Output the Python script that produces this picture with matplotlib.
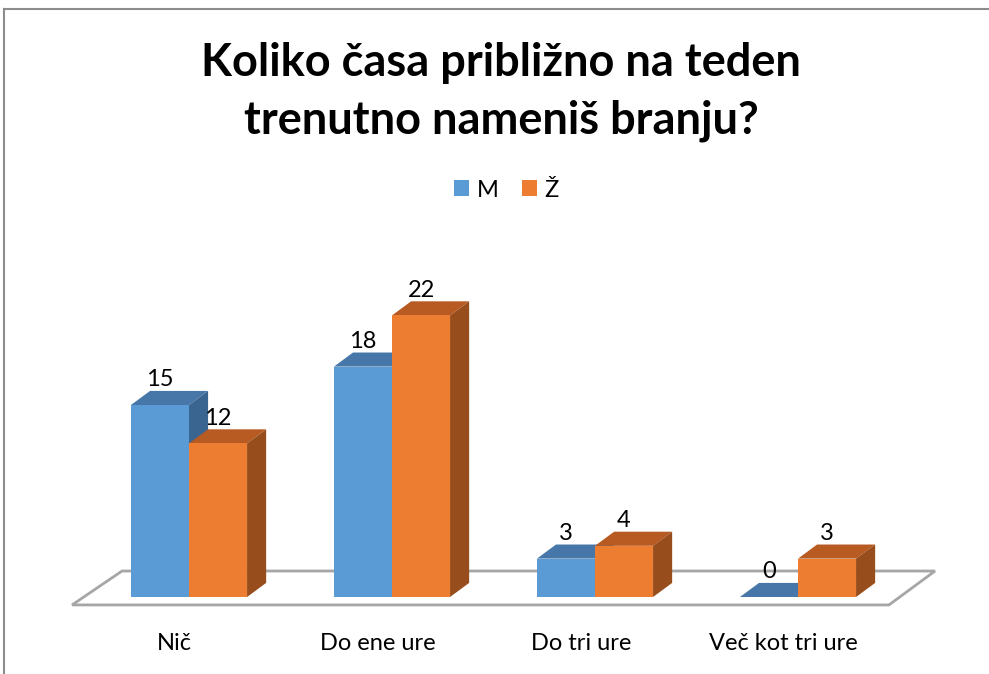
import matplotlib.pyplot as plt
from matplotlib.patches import Polygon, Patch
from matplotlib.lines import Line2D

categories = ["Nič", "Do ene ure", "Do tri ure", "Več kot tri ure"]
series_names = ["M", "Ž"]
m_values = [15, 18, 3, 0]
z_values = [12, 22, 4, 3]

front_cols = ["#5B9BD5", "#ED7D31"]
top_cols = ["#4677A8", "#B75B22"]
side_cols = ["#3B6591", "#974D1C"]

W, H = 989, 674
fig = plt.figure(figsize=(W / 100, H / 100), dpi=100)
ax = fig.add_axes([0, 0, 1, 1])
# 1 x-unit = one category step, 1 y-unit = one answer
ax.set_xlim(-189 / 203, (W - 189) / 203)
ax.set_ylim(-(H - 597) / 12.8, 597 / 12.8)
ax.axis("off")

bw = 0.286          # bar width
ddx, ddy = 0.094, 1.1   # bar depth offset

# floor
fy0, fy1 = -0.62, 2.03
floor = Polygon([(-0.576, fy0), (3.448, fy0), (3.675, fy1), (-0.33, fy1)],
                closed=True, facecolor="white", edgecolor="#A6A6A6", lw=2, zorder=1)
ax.add_patch(floor)


def bar3d(x0, v, k):
    x1 = x0 + bw
    top = Polygon([(x0, v), (x1, v), (x1 + ddx, v + ddy), (x0 + ddx, v + ddy)],
                  facecolor=top_cols[k], edgecolor="none", zorder=2)
    ax.add_patch(top)
    if v > 0:
        side = Polygon([(x1, 0), (x1 + ddx, ddy), (x1 + ddx, v + ddy), (x1, v)],
                       facecolor=side_cols[k], edgecolor="none", zorder=2)
        front = Polygon([(x0, 0), (x1, 0), (x1, v), (x0, v)],
                        facecolor=front_cols[k], edgecolor="none", zorder=2)
        ax.add_patch(side)
        ax.add_patch(front)
    ax.text(x0 + bw / 2, v + ddy + 0.05, str(v), ha="center", va="bottom",
            fontsize=17, family="Lato", zorder=3)


for i, cat in enumerate(categories):
    bar3d(i - bw, m_values[i], 0)
    bar3d(i, z_values[i], 1)
    ax.text(i - 0.07, -3.6, cat, ha="center", va="center", fontsize=17, family="Lato")

fig.text(0.507, 1 - 92 / H, "Koliko časa približno na teden\ntrenutno nameniš branju?",
         ha="center", va="center", fontsize=32.5, fontweight="bold", family="Lato",
         linespacing=1.45)

handles = [Patch(facecolor=c, edgecolor="none") for c in front_cols]
fig.legend(handles, series_names, ncol=2, loc="center", frameon=False,
           bbox_to_anchor=(0.512, 1 - 190 / H), prop={"family": "Lato", "size": 17},
           handlelength=0.65, handleheight=0.65, handletextpad=0.3, columnspacing=1.0)

# outer chart frame (top and left edges visible)
fig.add_artist(Line2D([4 / W, 1], [1 - 9 / H, 1 - 9 / H], color="#8C8C8C", lw=1.5))
fig.add_artist(Line2D([4 / W, 4 / W], [0, 1 - 9 / H], color="#8C8C8C", lw=1.5))

fig.savefig("out.png", dpi=100)
